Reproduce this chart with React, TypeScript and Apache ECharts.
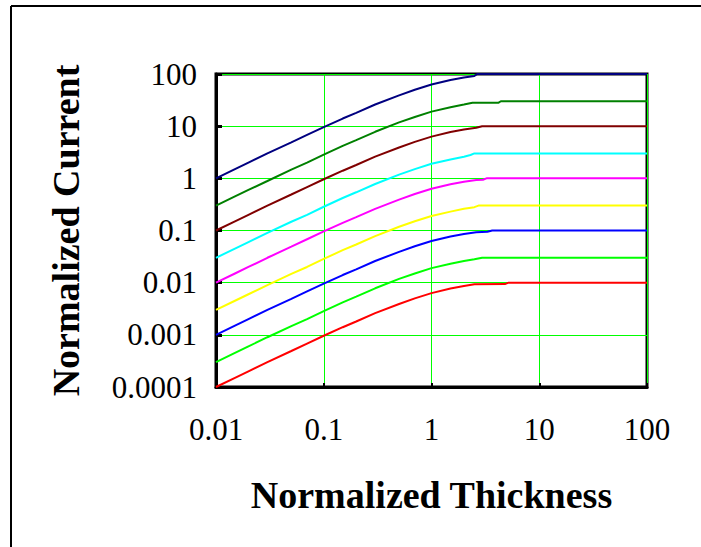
import React, { useEffect, useRef } from "react";
import * as echarts from "echarts";

const seriesNames = ["S100", "S30", "S10", "S3", "S1", "S0.3", "S0.1", "S0.03", "S0.01"];
const seriesColors = ["#000080", "#008000", "#800000", "#00FFFF", "#FF00FF", "#FFFF00", "#0000FF", "#00FF00", "#FF0000"];

const xTicks = ["0.01", "0.1", "1", "10", "100"];
const yTicks = ["0.0001", "0.001", "0.01", "0.1", "1", "10", "100"];

const thickness = [0.01, 0.015, 0.02, 0.03, 0.05, 0.07, 0.1, 0.15, 0.2, 0.3, 0.5, 0.7, 1, 1.5, 2];

const cur100 = [1, 1.5, 2, 3, 4.9, 6.8, 9.6, 14, 18, 26, 39, 50, 63, 77, 86];
const tail100 = [[2.5, 92], [2.66, 100], [100, 100]];
const cur30 = [0.3, 0.45, 0.6, 0.89, 1.47, 2.0, 2.85, 4.2, 5.4, 7.8, 11.8, 15, 19, 23, 26];
const tail30 = [[2.4, 28.2], [4.2, 28.2], [4.4, 30], [100, 30]];
const cur10 = [0.1, 0.15, 0.2, 0.3, 0.49, 0.68, 0.96, 1.4, 1.8, 2.6, 3.9, 5, 6.3, 7.7, 8.6];
const tail10 = [[2.6, 9.3], [2.95, 10], [100, 10]];
const cur3 = [0.03, 0.045, 0.06, 0.09, 0.147, 0.2, 0.285, 0.42, 0.54, 0.78, 1.18, 1.5, 1.9, 2.3, 2.6];
const tail3 = [[2.3, 2.8], [2.5, 3], [100, 3]];
const cur1 = [0.01, 0.015, 0.02, 0.03, 0.049, 0.068, 0.096, 0.14, 0.18, 0.26, 0.39, 0.5, 0.63, 0.77, 0.86];
const tail1 = [[2.6, 0.93], [3.0, 0.94], [3.24, 1], [100, 1]];
const cur03 = [0.003, 0.0045, 0.006, 0.009, 0.0147, 0.02, 0.0285, 0.042, 0.054, 0.078, 0.118, 0.15, 0.19, 0.23, 0.26];
const tail03 = [[2.5, 0.28], [2.73, 0.3], [100, 0.3]];
const cur01 = [0.001, 0.0015, 0.002, 0.003, 0.0049, 0.0068, 0.0096, 0.014, 0.018, 0.026, 0.039, 0.05, 0.063, 0.077, 0.086];
const tail01 = [[2.6, 0.093], [3.3, 0.095], [3.66, 0.1], [100, 0.1]];
const cur003 = [0.0003, 0.00045, 0.0006, 0.0009, 0.00147, 0.002, 0.00285, 0.0042, 0.0054, 0.0078, 0.0118, 0.015, 0.019, 0.023, 0.026];
const tail003 = [[2.5, 0.028], [2.95, 0.03], [100, 0.03]];
const cur001 = [0.0001, 0.00015, 0.0002, 0.0003, 0.00049, 0.00068, 0.00096, 0.0014, 0.0018, 0.0026, 0.0039, 0.005, 0.0063, 0.0077, 0.0086];
const tail001 = [[2.5, 0.0093], [4.8, 0.0094], [5.2, 0.01], [100, 0.01]];

const curves = [
  [cur100, tail100],
  [cur30, tail30],
  [cur10, tail10],
  [cur3, tail3],
  [cur1, tail1],
  [cur03, tail03],
  [cur01, tail01],
  [cur003, tail003],
  [cur001, tail001],
];

const FONT = "'Liberation Serif', 'Times New Roman', serif";

export default function App() {
  const ref = useRef<HTMLDivElement>(null);
  useEffect(() => {
    if (!ref.current) return;
    const chart = echarts.init(ref.current, undefined, { renderer: "svg" });
    const series = curves.map(([ys, tail], i) => ({
      name: seriesNames[i],
      type: "line",
      showSymbol: false,
      symbol: "none",
      lineStyle: { color: seriesColors[i], width: 2 },
      itemStyle: { color: seriesColors[i] },
      data: [...thickness.map((x, j) => [x, (ys as number[])[j]]), ...(tail as number[][])],
    }));
    chart.setOption({
      animation: false,
      backgroundColor: "#ffffff",
      grid: {
        left: 216,
        top: 74,
        width: 431,
        height: 313,
        show: true,
        borderColor: "#000000",
        borderWidth: 3,
        backgroundColor: "transparent",
      },
      xAxis: {
        type: "log",
        logBase: 10,
        min: 0.01,
        max: 100,
        name: "Normalized Thickness",
        nameLocation: "middle",
        nameGap: 89,
        nameTextStyle: { fontFamily: FONT, fontSize: 38, fontWeight: "bold", color: "#000" },
        axisLine: { show: true, lineStyle: { color: "#000", width: 3 } },
        axisTick: { show: true, inside: true, length: 4, lineStyle: { color: "#000", width: 2 } },
        splitLine: { show: true, lineStyle: { color: "#00FF00", width: 1 } },
        minorTick: { show: false },
        axisLabel: {
          fontFamily: FONT,
          fontSize: 31,
          color: "#000",
          margin: 27,
          formatter: (v: number) => xTicks[Math.round(Math.log10(v)) + 2] ?? String(v),
        },
      },
      yAxis: {
        type: "log",
        logBase: 10,
        min: 0.0001,
        max: 100,
        name: "Normalized Current",
        nameLocation: "middle",
        nameGap: 131,
        nameTextStyle: { fontFamily: FONT, fontSize: 38, fontWeight: "bold", color: "#000" },
        axisLine: { show: true, lineStyle: { color: "#000", width: 3 } },
        axisTick: { show: true, inside: true, length: 6, lineStyle: { color: "#000", width: 3 } },
        splitLine: { show: true, lineStyle: { color: "#00FF00", width: 1 } },
        axisLabel: {
          fontFamily: FONT,
          fontSize: 31,
          color: "#000",
          margin: 19,
          formatter: (v: number) => yTicks[Math.round(Math.log10(v)) + 4] ?? String(v),
        },
      },
      graphic: [
        { type: "line", shape: { x1: 11, y1: 6, x2: 701, y2: 6 }, style: { stroke: "#000", lineWidth: 2 } },
        { type: "line", shape: { x1: 11, y1: 6, x2: 11, y2: 547 }, style: { stroke: "#000", lineWidth: 2 } },
      ],
      series,
    });
    return () => chart.dispose();
  }, []);
  return <div ref={ref} style={{ position: "fixed", left: 0, top: 0, width: 701, height: 547 }} />;
}
